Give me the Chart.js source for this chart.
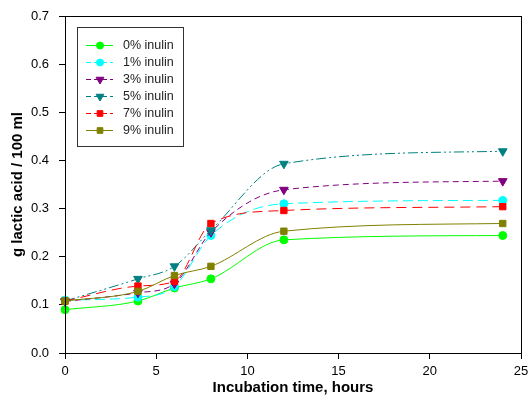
<!DOCTYPE html>
<html>
<head>
<meta charset="utf-8">
<script src="https://cdn.jsdelivr.net/npm/chart.js@4.4.1/dist/chart.umd.min.js"></script>
<style>
    body { margin: 0; background: #fff; }
    .chartBox { width: 529px; height: 401px; }
</style>
</head>
<body>
<div class="chartBox"><canvas id="lactic"></canvas></div>
<script>
// incubation times (hours) and lactic acid (g / 100 ml) per inulin level
const hours = [0, 4, 6, 8, 12, 24];
const inulin0 = [0.090, 0.108, 0.135, 0.154, 0.235, 0.244];
const inulin1 = [0.110, 0.116, 0.138, 0.244, 0.310, 0.317];
const inulin3 = [0.107, 0.125, 0.144, 0.251, 0.339, 0.357];
const inulin5 = [0.108, 0.154, 0.180, 0.255, 0.393, 0.419];
const inulin7 = [0.108, 0.139, 0.149, 0.269, 0.296, 0.304];
const inulin9 = [0.108, 0.128, 0.161, 0.180, 0.253, 0.269];
const seriesLabels = ["0% inulin", "1% inulin", "3% inulin", "5% inulin", "7% inulin", "9% inulin"];
const xTicks = [0, 5, 10, 15, 20, 25];
const yTicks = [0, 0.1, 0.2, 0.3, 0.4, 0.5, 0.6, 0.7];

const FONT = "'Liberation Sans', Arial, sans-serif";

const toPoints = values => values.map((v, i) => ({x: hours[i], y: v}));

const makeSet = (idx, values, color, dash, style, rotation, radius) => ({
    label: seriesLabels[idx],
    data: toPoints(values),
    borderColor: color,
    backgroundColor: color,
    borderWidth: 1,
    borderDash: dash,
    pointStyle: style,
    pointRotation: rotation,
    pointRadius: radius,
    pointBorderWidth: 1,
    cubicInterpolationMode: "monotone",
    clip: false,
    order: 5 - idx,
});

const datasets = [
    makeSet(0, inulin0, "#00ff00", [], "circle", 0, 4),
    makeSet(1, inulin1, "#00ffff", [10, 5], "circle", 0, 4),
    makeSet(2, inulin3, "#800080", [6, 4], "triangle", 180, 5),
    makeSet(3, inulin5, "#008080", [10, 3, 2, 3, 2, 3], "triangle", 180, 5),
    makeSet(4, inulin7, "#ff0000", [10, 6], "rect", 0, 4.5),
    makeSet(5, inulin9, "#808000", [], "rect", 0, 4.5),
];

// frame around the plot and the boxed legend in the upper left
const framePlugin = {
    id: "frame",
    afterDraw(chart) {
        const ctx = chart.ctx;
        const a = chart.chartArea;
        ctx.save();
        ctx.strokeStyle = "#000";
        ctx.lineWidth = 1;
        ctx.strokeRect(Math.round(a.left) + 0.5, Math.round(a.top) + 0.5,
            Math.round(a.right - a.left), Math.round(a.bottom - a.top));

        const bx = 77, by = 27, bw = 106, bh = 119;
        ctx.fillStyle = "#fff";
        ctx.fillRect(bx, by, bw, bh);
        ctx.strokeStyle = "#333";
        ctx.strokeRect(bx + 0.5, by + 0.5, bw, bh);

        ctx.font = "12.5px " + FONT;
        ctx.textBaseline = "middle";
        chart.data.datasets.forEach((ds, i) => {
            const y = 45 + i * 17;
            ctx.save();
            ctx.strokeStyle = ds.borderColor;
            ctx.lineWidth = 1;
            ctx.setLineDash(ds.borderDash.length ? [5, 3] : []);
            ctx.beginPath();
            ctx.moveTo(86, y + 0.5);
            ctx.lineTo(113, y + 0.5);
            ctx.stroke();
            ctx.restore();
            ctx.fillStyle = ds.backgroundColor;
            ctx.strokeStyle = ds.borderColor;
            Chart.helpers.drawPoint(ctx, {
                pointStyle: ds.pointStyle,
                rotation: ds.pointRotation,
                radius: ds.pointRadius - 0.5,
                borderWidth: 1,
            }, 100, y + 0.5);
            ctx.fillStyle = "#222";
            ctx.fillText(ds.label, 123, y + 1);
        });
        ctx.restore();
    }
};

new Chart(document.getElementById("lactic").getContext("2d"), {
    type: "line",
    data: {datasets: datasets},
    options: {
        responsive: true,
        maintainAspectRatio: false,
        animation: false,
        layout: {padding: {top: 16, right: 8, left: 0, bottom: 0}},
        plugins: {legend: {display: false}, tooltip: {enabled: false}},
        scales: {
            x: {
                type: "linear",
                min: 0,
                max: 25,
                afterBuildTicks: scale => { scale.ticks = xTicks.map(v => ({value: v})); },
                afterFit: scale => {
                    scale.height = 48;
                    scale.paddingLeft = 0;
                    scale.paddingRight = 0;
                },
                grid: {drawOnChartArea: false, tickLength: 6, color: "#000"},
                border: {color: "#000"},
                ticks: {color: "#000", font: {family: FONT, size: 13}, padding: 5, maxRotation: 0},
                title: {display: true, text: "Incubation time, hours", color: "#000",
                    font: {family: FONT, size: 15, weight: "bold"}, padding: {top: 1}},
            },
            y: {
                min: 0,
                max: 0.7,
                afterBuildTicks: scale => { scale.ticks = yTicks.map(v => ({value: v})); },
                afterFit: scale => {
                    scale.width = 65;
                    scale.paddingTop = 0;
                    scale.paddingBottom = 0;
                },
                grid: {drawOnChartArea: false, tickLength: 6, color: "#000"},
                border: {color: "#000"},
                ticks: {color: "#000", font: {family: FONT, size: 13}, padding: 10,
                    callback: v => Number(v).toFixed(1)},
                title: {display: true, text: "g lactic acid / 100 ml", color: "#000",
                    font: {family: FONT, size: 15, weight: "bold"}, padding: {top: 9, bottom: 0}},
            },
        },
    },
    plugins: [framePlugin],
});
</script>
</body>
</html>
